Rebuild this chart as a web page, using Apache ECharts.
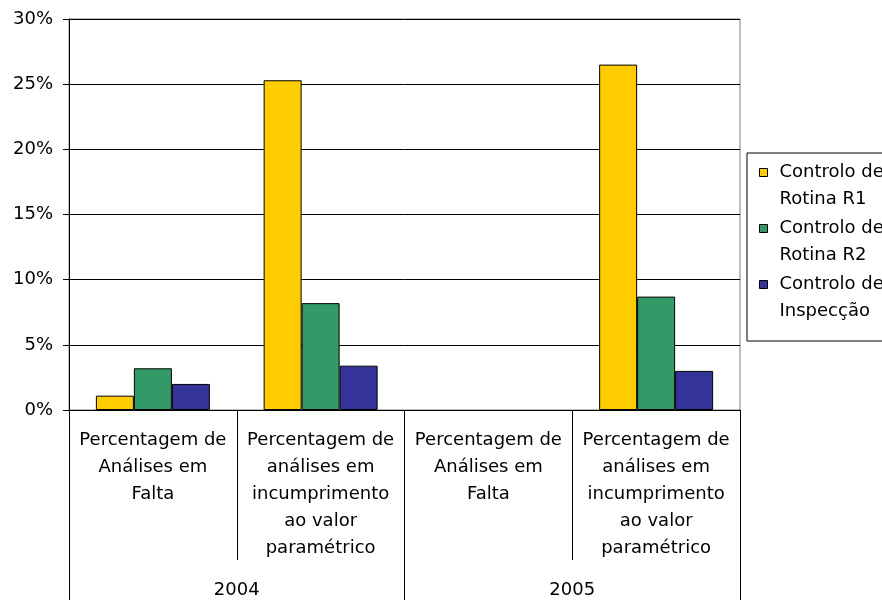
<!DOCTYPE html>
<html>
<head>
<meta charset="utf-8">
<script src="https://cdn.jsdelivr.net/npm/echarts@6/dist/echarts.min.js"></script>
<style>
  html, body { margin: 0; padding: 0; background: #fff; }
  #chart { width: 882px; height: 600px; }
</style>
</head>
<body>
<div id="chart"></div>
<script>
// Indicator categories (lower axis level) and years (upper axis level)
const categories = [
  'Percentagem de\nAnálises em\nFalta',
  'Percentagem de\nanálises em\nincumprimento\nao valor\nparamétrico',
  'Percentagem de\nAnálises em\nFalta',
  'Percentagem de\nanálises em\nincumprimento\nao valor\nparamétrico'
];
const years = ['2004', '2005'];

// Percent values per control type (null = no value)
const rotinaR1 = [1.1, 25.3, null, 26.5];
const rotinaR2 = [3.2, 8.2, null, 8.7];
const inspeccao = [2.0, 3.4, null, 3.0];

const seriesNames = ['Controlo de\nRotina R1', 'Controlo de\nRotina R2', 'Controlo de\nInspecção'];
const seriesColors = ['#FFCC00', '#339966', '#333399'];
const yTicks = { min: 0, max: 30, step: 5 };

const FONT = 'DejaVu Sans';
const FONT_SIZE = 18;

// Legend marker: an 8x8 square sitting at the top of a taller box, so it lines
// up with the first line of the two-line legend labels.
const LEGEND_ICON = 'path://M0,0L8,0L8,8L0,8Z M0,35';

const chart = echarts.init(document.getElementById('chart'), null, { renderer: 'canvas' });

function barSeries(name, data, color) {
  return {
    name: name,
    type: 'bar',
    xAxisIndex: 0,
    data: data,
    barWidth: 38,
    barGap: '0%',
    itemStyle: { color: color, borderColor: '#000', borderWidth: 1 },
    emphasis: { disabled: true }
  };
}

chart.setOption({
  animation: false,
  backgroundColor: '#fff',
  textStyle: { fontFamily: FONT },
  grid: {
    left: 69, right: 142, top: 19, bottom: 190,
    outerBoundsMode: 'none',
    containLabel: false,
    show: true, borderColor: '#808080', borderWidth: 1, backgroundColor: 'transparent'
  },
  legend: {
    orient: 'vertical',
    left: 747, top: 153,
    itemWidth: 8, itemHeight: 35, itemGap: 2,
    padding: [6, 40, 16, 12],
    borderColor: '#000', borderWidth: 1,
    icon: LEGEND_ICON,
    itemStyle: { borderColor: '#000', borderWidth: 1 },
    textStyle: {
      fontFamily: FONT, fontSize: FONT_SIZE, color: '#000',
      lineHeight: 27, padding: [0, 0, 0, 7]
    },
    data: seriesNames
  },
  xAxis: [
    {
      type: 'category',
      position: 'bottom',
      data: categories,
      axisLine: { lineStyle: { color: '#000', width: 1 } },
      axisTick: { show: true, length: 150, lineStyle: { color: '#000' } },
      axisLabel: {
        interval: 0, margin: 17, color: '#000',
        fontFamily: FONT, fontSize: FONT_SIZE, lineHeight: 27, hideOverlap: false
      }
    },
    {
      type: 'category',
      position: 'bottom',
      data: years,
      axisLine: { show: false },
      axisTick: { show: true, length: 190, lineStyle: { color: '#000' } },
      axisLabel: {
        interval: 0, margin: 167, color: '#000',
        fontFamily: FONT, fontSize: FONT_SIZE, lineHeight: 27
      }
    }
  ],
  yAxis: {
    type: 'value',
    min: yTicks.min, max: yTicks.max, interval: yTicks.step,
    axisLine: { show: true, lineStyle: { color: '#000' } },
    axisTick: { show: true, length: 6, lineStyle: { color: '#000' } },
    axisLabel: {
      formatter: '{value}%', margin: 16, color: '#000',
      fontFamily: FONT, fontSize: FONT_SIZE
    },
    splitLine: { show: true, lineStyle: { color: '#000', width: 1 } }
  },
  series: [
    barSeries(seriesNames[0], rotinaR1, seriesColors[0]),
    barSeries(seriesNames[1], rotinaR2, seriesColors[1]),
    barSeries(seriesNames[2], inspeccao, seriesColors[2])
  ]
});
</script>
</body>
</html>
